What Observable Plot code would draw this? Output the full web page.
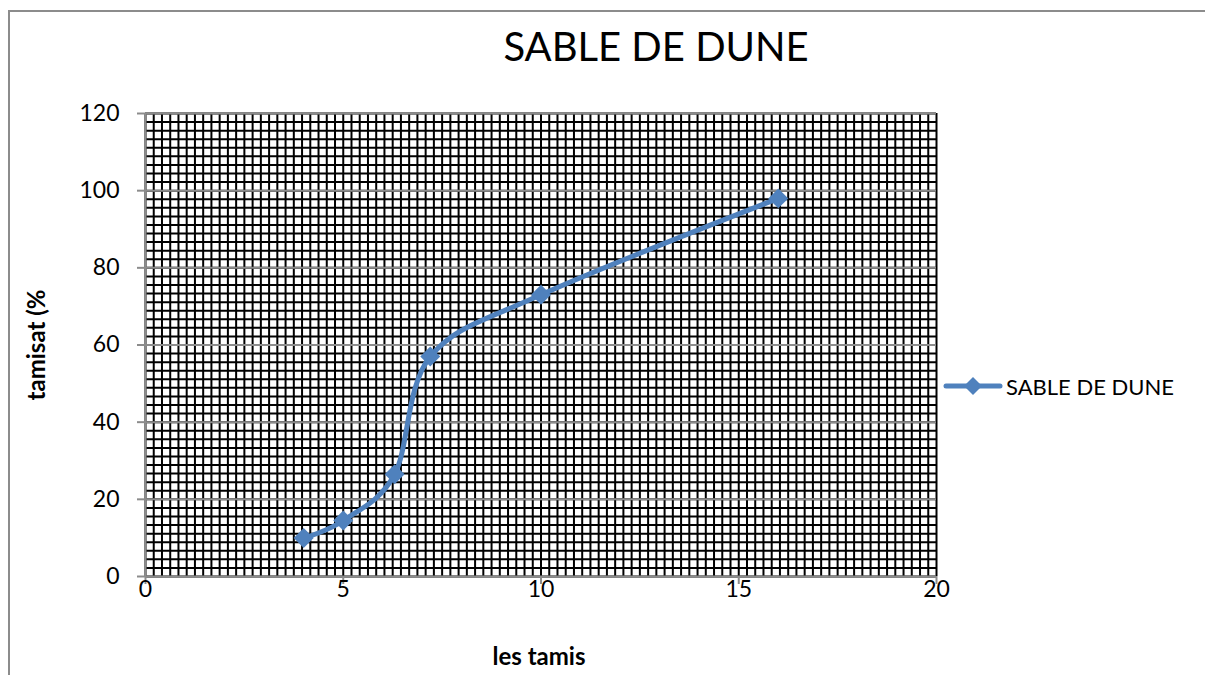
<!DOCTYPE html>
<html>
<head>
<meta charset="utf-8">
<script src="https://cdn.jsdelivr.net/npm/d3@7"></script>
<script src="https://cdn.jsdelivr.net/npm/@observablehq/plot@0.6"></script>
<style>
  html, body { margin: 0; padding: 0; background: #fff; }
  body { width: 1205px; height: 675px; position: relative; overflow: hidden; font-family: Lato, "Open Sans", sans-serif; }
  #frame { position: absolute; left: 8px; top: 10px; width: 1300px; height: 800px; border-left: 2px solid #8c8c8c; border-top: 2px solid #8c8c8c; }
  #chart { position: absolute; left: 0; top: 0; }
  #title { position: absolute; left: 0; width: 1312px; top: 22px; text-align: center; font-size: 40px; color: #000; }
  #ylabel { position: absolute; left: 35px; top: 345px; transform: translate(-50%, -50%) rotate(-90deg); font-size: 24px; font-weight: bold; white-space: nowrap; }
  #xlabel { position: absolute; left: 539px; top: 655px; transform: translate(-50%, -50%); font-size: 24px; font-weight: bold; white-space: nowrap; }
  #legend { position: absolute; left: 942px; top: 372px; display: flex; align-items: center; font-size: 22px; }
</style>
</head>
<body>
<div id="frame"></div>
<div id="chart"></div>
<div id="title">SABLE DE DUNE</div>
<div id="ylabel">tamisat (%</div>
<div id="xlabel">les tamis</div>
<div id="legend">
  <svg width="62" height="28"><line x1="4" y1="14" x2="58" y2="14" stroke="#4f81bd" stroke-width="5" stroke-linecap="round"/><path d="M31 5 L40 14 L31 23 L22 14 Z" fill="#4f81bd"/></svg>
  <span style="margin-left:2px">SABLE DE DUNE</span>
</div>
<script>
const seriesName = "SABLE DE DUNE";
const tamis = [4, 5, 6.3, 7.2, 10, 16];
const tamisat = [10, 14.5, 26.5, 57, 73, 98];
const xTicks = [0, 5, 10, 15, 20];
const yTicks = [0, 20, 40, 60, 80, 100, 120];

const data = tamis.map((x, i) => ({x, y: tamisat[i]}));
const xMinor = d3.range(0, 20.001, 5 / 24);
const yMinor = d3.range(0, 120.001, 20 / 9);

const chart = Plot.plot({
  width: 1205,
  height: 675,
  marginLeft: 145,
  marginRight: 269,
  marginTop: 113,
  marginBottom: 99,
  style: {fontFamily: "Lato, 'Open Sans', sans-serif", background: "transparent"},
  x: {domain: [0, 20]},
  y: {domain: [0, 120]},
  marks: [
    Plot.ruleX(xMinor, {stroke: "#000", strokeWidth: 2}),
    Plot.ruleY(yMinor, {stroke: "#000", strokeWidth: 2}),
    Plot.ruleY(yTicks.slice(1), {stroke: "#8c8c8c", strokeWidth: 2}),
    Plot.ruleY([0], {stroke: "#8c8c8c", strokeWidth: 2}),
    Plot.ruleX([0], {stroke: "#8c8c8c", strokeWidth: 2}),
    Plot.axisX({ticks: xTicks, tickSize: 8, tickPadding: -4, stroke: "#8c8c8c", strokeWidth: 2, fill: "#000", fontSize: 23, label: null, tickFormat: d => String(d)}),
    Plot.axisY({ticks: yTicks, tickSize: 8, tickPadding: 18, stroke: "#8c8c8c", strokeWidth: 2, fill: "#000", fontSize: 23, label: null, tickFormat: d => String(d)}),
    Plot.line(data, {x: "x", y: "y", curve: "cardinal", tension: 0, stroke: "#4f81bd", strokeWidth: 5, strokeLinecap: "round"}),
    Plot.dot(data, {x: "x", y: "y", symbol: "diamond2", r: 9, fill: "#4f81bd", stroke: "none"})
  ]
});
document.getElementById("chart").appendChild(chart);
</script>
</body>
</html>
